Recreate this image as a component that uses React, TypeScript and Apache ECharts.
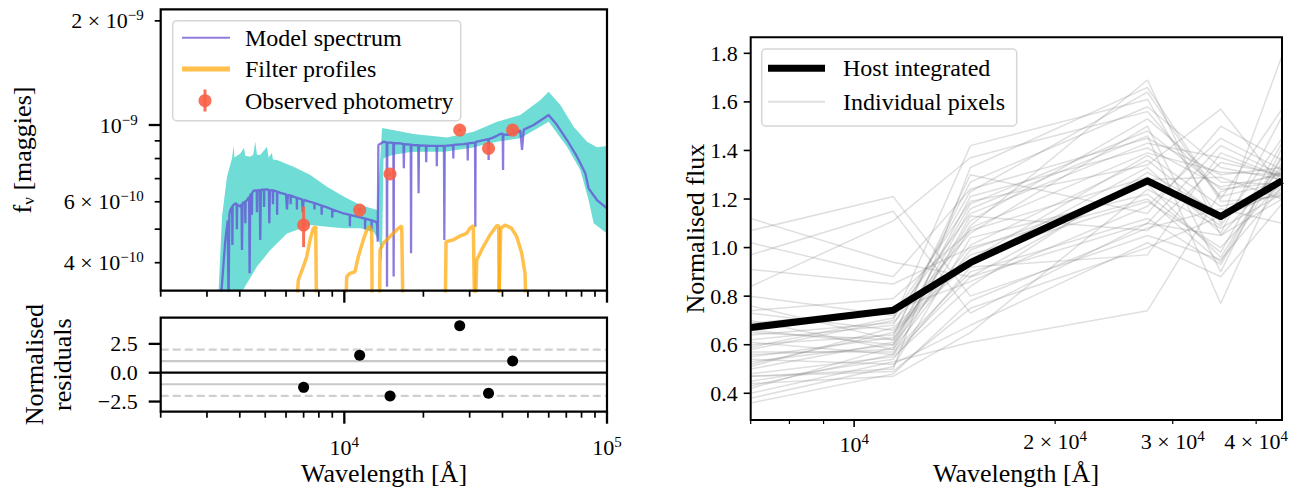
import React, { useEffect, useRef } from "react";
import * as echarts from "echarts";

const FAMILY = "'Liberation Serif', 'DejaVu Serif', serif";
const font = (size: number) => `${size}px ${FAMILY}`;

// ---------- Left panel: SED ----------
const photWave = [7000, 11440, 14930, 27500, 35400, 43730];
const photFlux = [5.14e-10, 5.68e-10, 7.22e-10, 9.67e-10, 8.56e-10, 9.67e-10];
const photLow = [4.44e-10, 5.6e-10, 7.13e-10, 9.56e-10, 8.46e-10, 9.56e-10];
const photHigh = [5.81e-10, 5.76e-10, 7.31e-10, 9.78e-10, 8.66e-10, 9.78e-10];
const residuals = [-1.27, 1.51, -2.02, 4.07, -1.79, 1.01];
const residRefValues = [2, 1, 0, -1, -2];

const modelSpectrum: [number, number][] = [
  [3373, 3.0e-10], [3524, 4.65e-10], [3600, 5.3e-10], [3625, 3.0e-10], [3650, 5.5e-10],
  [3681, 5.68e-10], [3740, 5.8e-10], [3750, 4.5e-10], [3760, 5.85e-10], [3846, 5.94e-10],
  [3890, 5.92e-10], [3900, 5.0e-10], [3910, 5.9e-10], [4018, 5.81e-10], [4060, 5.9e-10],
  [4078, 4.35e-10], [4100, 5.95e-10], [4190, 6.0e-10], [4200, 5.2e-10], [4210, 6.02e-10],
  [4262, 6.07e-10], [4340, 6.2e-10], [4360, 3.73e-10], [4385, 6.3e-10], [4440, 6.33e-10],
  [4450, 5.5e-10], [4460, 6.37e-10], [4515, 6.46e-10], [4640, 6.47e-10], [4650, 5.6e-10],
  [4660, 6.47e-10], [4760, 6.48e-10], [4786, 4.65e-10], [4815, 6.5e-10], [4940, 6.5e-10],
  [4950, 5.8e-10], [4960, 6.5e-10], [5078, 6.52e-10], [5160, 6.5e-10], [5182, 5.2e-10],
  [5210, 6.48e-10], [5340, 6.47e-10], [5350, 5.9e-10], [5360, 6.47e-10], [5540, 6.42e-10],
  [5550, 5.5e-10], [5560, 6.42e-10], [5706, 6.37e-10], [6000, 6.3e-10], [6050, 5.7e-10],
  [6100, 6.28e-10], [6240, 6.25e-10], [6250, 5.9e-10], [6260, 6.25e-10], [6412, 6.21e-10],
  [6590, 6.16e-10], [6600, 5.7e-10], [6610, 6.16e-10], [6900, 6.1e-10], [6950, 5.6e-10],
  [7000, 6.08e-10], [7424, 6.0e-10], [7690, 5.95e-10], [7700, 5.7e-10], [7710, 5.95e-10],
  [8190, 5.85e-10], [8200, 5.5e-10], [8210, 5.85e-10], [8590, 5.78e-10], [8990, 5.7e-10],
  [9000, 5.4e-10], [9010, 5.7e-10], [9938, 5.55e-10], [10490, 5.5e-10], [10500, 5.1e-10],
  [10510, 5.5e-10], [11510, 5.41e-10], [11990, 5.36e-10], [12000, 5.0e-10], [12010, 5.36e-10],
  [12690, 5.3e-10], [12700, 5.0e-10], [12710, 5.3e-10], [13125, 5.26e-10], [13320, 5.2e-10],
  [13400, 4.6e-10], [13480, 8.75e-10], [14110, 8.95e-10], [14500, 8.9e-10], [14540, 3.41e-10],
  [14580, 8.9e-10], [14970, 8.89e-10], [15370, 8.88e-10], [15410, 3.65e-10], [15450, 8.87e-10],
  [16340, 8.85e-10], [16800, 8.8e-10], [16850, 7.5e-10], [16900, 8.8e-10], [17900, 8.78e-10],
  [17950, 4.26e-10], [18000, 8.77e-10], [18360, 8.75e-10], [19120, 8.74e-10], [19180, 6.35e-10],
  [19240, 8.73e-10], [20450, 8.72e-10], [20500, 7.8e-10], [20550, 8.72e-10], [21260, 8.7e-10],
  [22450, 8.7e-10], [22500, 7.6e-10], [22550, 8.7e-10], [23950, 8.7e-10], [24030, 4.65e-10],
  [24110, 8.7e-10], [25950, 8.75e-10], [26000, 8.0e-10], [26050, 8.76e-10], [28460, 8.81e-10],
  [29450, 8.84e-10], [29500, 7.9e-10], [29550, 8.85e-10], [31450, 8.9e-10], [31530, 5.08e-10],
  [31610, 8.92e-10], [32000, 8.95e-10], [35350, 9.1e-10], [35430, 7.92e-10], [35510, 9.1e-10],
  [37020, 9.21e-10], [39260, 9.42e-10], [40100, 9.45e-10], [40200, 7.41e-10], [40300, 9.4e-10],
  [42220, 9.36e-10], [46770, 9.63e-10], [47480, 8.47e-10], [48200, 9.7e-10], [52570, 1.0e-9],
  [59960, 1.069e-9], [64530, 1.0e-9], [70440, 9.05e-10], [76900, 8.1e-10], [82700, 7.25e-10],
  [85100, 6.56e-10], [91600, 6.07e-10], [100000, 5.74e-10],
];

const bandUpper: [number, number][] = [
  [3323, 3.0e-10], [3423, 5.43e-10], [3576, 7.09e-10], [3737, 8.01e-10], [3790, 8.7e-10],
  [3820, 8.05e-10], [4018, 8.28e-10], [4150, 8.6e-10], [4200, 8.15e-10], [4386, 8.1e-10],
  [4500, 8.2e-10], [4583, 8.95e-10], [4650, 8.2e-10], [4786, 8.19e-10], [5078, 8.66e-10],
  [5150, 8.05e-10], [5300, 8.3e-10], [5350, 7.95e-10], [5544, 7.92e-10], [6412, 7.58e-10],
  [7424, 7.17e-10], [8590, 6.63e-10], [9938, 6.21e-10], [11510, 5.87e-10], [13320, 5.68e-10],
  [13920, 9.78e-10], [14110, 9.78e-10], [18360, 9.42e-10], [24600, 9.21e-10], [31060, 9.56e-10],
  [38130, 1.022e-9], [46770, 1.069e-9], [55760, 1.181e-9], [59960, 1.248e-9], [66440, 1.142e-9],
  [74650, 9.89e-10], [83950, 8.95e-10], [91600, 8.62e-10], [100000, 8.7e-10],
];

const bandLower: [number, number][] = [
  [3323, 3.0e-10], [4099, 3.0e-10], [4652, 3.9e-10], [5228, 4.35e-10], [6052, 4.86e-10],
  [7424, 5.14e-10], [8590, 5.08e-10], [9938, 5.03e-10], [11510, 5.03e-10], [12930, 4.91e-10],
  [13600, 4.6e-10], [13900, 4.0e-10], [14100, 8.0e-10], [14500, 8.1e-10], [14540, 3.6e-10],
  [14580, 8.1e-10], [15370, 8.2e-10], [15410, 3.9e-10], [15450, 8.2e-10], [17900, 8.35e-10],
  [17950, 4.6e-10], [18000, 8.35e-10], [19120, 8.37e-10], [19180, 6.6e-10], [19240, 8.37e-10],
  [23950, 8.37e-10], [24030, 5.0e-10], [24110, 8.37e-10], [31450, 8.63e-10], [31530, 5.4e-10],
  [31610, 8.65e-10], [38130, 8.95e-10], [46770, 9.15e-10], [59960, 1.022e-9], [70440, 8.66e-10],
  [79120, 7.41e-10], [85100, 6.07e-10], [88960, 5.2e-10], [100000, 4.86e-10],
];

const filter1: [number, number][] = [
  [6491, 2.5e-10], [6682, 3.565e-10], [6982, 3.895e-10], [7193, 4.163e-10], [7404, 4.656e-10],
  [7621, 5.028e-10], [7783, 5.082e-10], [7851, 2.5e-10],
];
const filter2: [number, number][] = [
  [10062, 2.5e-10], [10212, 3.644e-10], [10512, 3.727e-10], [10982, 3.767e-10], [11305, 4.163e-10],
  [11810, 4.656e-10], [12170, 4.97e-10], [12530, 5.105e-10], [12717, 4.863e-10], [12784, 2.5e-10],
];
const filter3: [number, number][] = [
  [13590, 2.5e-10], [13676, 4.355e-10], [14075, 4.55e-10], [14708, 4.706e-10], [15370, 4.864e-10],
  [16060, 5.028e-10], [16540, 5.105e-10], [16770, 2.5e-10],
];
const filter4: [number, number][] = [
  [24170, 2.5e-10], [24390, 4.6e-10], [25990, 4.656e-10], [27570, 4.777e-10], [29230, 4.864e-10],
  [30100, 5.028e-10], [30970, 5.117e-10], [31440, 2.5e-10],
];
const filter5: [number, number][] = [
  [31440, 2.5e-10], [31920, 4.074e-10], [33810, 4.448e-10], [35860, 4.81e-10], [38030, 5.117e-10],
  [38700, 5.117e-10], [38900, 2.5e-10],
];
const filter6: [number, number][] = [
  [38560, 2.5e-10], [39390, 5.028e-10], [40900, 5.14e-10], [43370, 5.028e-10], [45330, 4.755e-10],
  [47360, 4.258e-10], [48750, 3.727e-10], [49470, 2.5e-10],
];
const filters = [filter1, filter2, filter3, filter4, filter5, filter6];

// ---------- Right panel ----------
const pixelWave = [7000, 11440, 14930, 27500, 35400, 43730];
const hostIntegrated = [0.671, 0.742, 0.938, 1.275, 1.128, 1.275];
const pixelSpectra = [
  [1.12, 0.94, 0.88, 1.1, 1.05, 1.2],
  [1.07, 1.21, 0.8, 1.05, 0.95, 1.25],
  [1.02, 0.88, 1.24, 1.45, 1.3, 1.33],
  [0.97, 1.15, 0.73, 1.1, 1.42, 1.3],
  [0.91, 0.85, 1.0, 1.2, 0.94, 1.38],
  [0.84, 1.11, 1.37, 1.56, 1.21, 1.27],
  [0.8, 0.72, 1.19, 1.34, 1.57, 1.25],
  [0.76, 0.62, 1.09, 1.69, 1.05, 1.33],
  [0.73, 0.66, 0.95, 1.38, 1.17, 1.22],
  [0.7, 0.58, 1.13, 1.07, 1.35, 1.3],
  [0.64, 0.69, 1.06, 1.5, 0.9, 1.41],
  [0.61, 0.56, 0.88, 1.28, 1.29, 1.2],
  [0.58, 0.7, 1.42, 1.61, 1.1, 1.79],
  [0.55, 0.63, 1.3, 1.14, 1.5, 1.36],
  [0.54, 0.52, 0.68, 1.02, 0.88, 1.18],
  [0.53, 0.6, 1.21, 1.41, 1.25, 1.3],
  [0.51, 0.67, 0.97, 1.19, 1.0, 1.27],
  [0.48, 0.55, 0.84, 1.31, 1.14, 1.25],
  [0.47, 0.5, 1.33, 1.66, 1.2, 1.57],
  [0.45, 0.54, 0.92, 0.97, 1.39, 1.29],
  [0.44, 0.47, 0.65, 1.24, 1.08, 1.22],
  [0.42, 0.59, 1.16, 1.46, 0.77, 1.33],
  [0.4, 0.53, 0.61, 0.74, 1.23, 1.31],
  [0.38, 0.51, 1.04, 1.22, 0.98, 1.43],
  [0.36, 0.48, 0.78, 1.08, 1.16, 1.1],
  [0.6, 0.64, 1.27, 1.58, 1.33, 1.28],
  [0.66, 0.6, 1.01, 1.36, 1.12, 1.24],
  [0.57, 0.57, 0.9, 1.12, 0.93, 1.35],
  [0.5, 0.61, 1.11, 1.53, 1.27, 1.26],
  [0.69, 0.74, 0.86, 1.17, 1.45, 1.32],
  [0.62, 0.68, 1.23, 1.64, 1.19, 1.21],
  [0.56, 0.58, 0.99, 1.26, 0.96, 1.37],
  [0.43, 0.56, 1.08, 1.39, 1.31, 1.3],
  [0.52, 0.65, 0.94, 1.33, 1.06, 1.54],
  [0.47, 0.49, 0.75, 1.0, 1.13, 1.23],
  [0.59, 0.71, 1.14, 1.43, 1.37, 1.29],
  [0.74, 0.79, 1.07, 1.29, 1.09, 1.45],
  [0.65, 0.62, 1.18, 1.48, 1.24, 1.27],
];

// ---------- Ticks ----------
const fluxTicks = [2e-9, 1e-9, 9e-10, 8e-10, 7e-10, 6e-10, 5e-10, 4e-10];
const fluxTickLabels = ["2 × 10^−9", "10^−9", "", "", "", "6 × 10^−10", "", "4 × 10^−10"];
const fluxTickMajor = [false, true, false, false, false, false, false, false];

const waveTicksLeft = [2000, 3000, 4000, 5000, 6000, 7000, 8000, 9000, 10000, 20000, 30000, 40000, 50000, 60000, 70000, 80000, 90000, 100000];
const waveTickLabelsLeft = ["", "", "", "", "", "", "", "", "10^4", "", "", "", "", "", "", "", "", "10^5"];
const waveTickMajorLeft = waveTicksLeft.map((v) => v === 10000 || v === 100000);

const residTicks = [2.5, 0, -2.5];
const residTickLabels = ["2.5", "0.0", "−2.5"];

const normTicks = [0.4, 0.6, 0.8, 1.0, 1.2, 1.4, 1.6, 1.8];
const normTickLabels = ["0.4", "0.6", "0.8", "1.0", "1.2", "1.4", "1.6", "1.8"];

const waveTicksRight = [7000, 8000, 9000, 10000, 20000, 30000, 40000];
const waveTickLabelsRight = ["", "", "", "10^4", "2 × 10^4", "3 × 10^4", "4 × 10^4"];
const waveTickMajorRight = [false, false, false, true, false, false, false];

function richText(label: string) {
  const parts = label.split("^");
  return parts.length > 1 ? `{m|${parts[0]}}{s|${parts[1]}}` : `{m|${parts[0]}}`;
}
function richStyles(size: number, sup: number) {
  return {
    m: { font: font(size), fontSize: size, fontFamily: FAMILY, fill: "#000", lineHeight: size + 4 },
    s: { font: font(sup), fontSize: sup, fontFamily: FAMILY, fill: "#000", lineHeight: sup, verticalAlign: "top" },
  };
}

const hiddenAxis = {
  axisLine: { show: false },
  axisTick: { show: false },
  axisLabel: { show: false },
  splitLine: { show: false },
  minorTick: { show: false },
  minorSplitLine: { show: false },
};

type TickOpts = {
  axisIdx: number;
  axis: "x" | "y";
  values: number[];
  labels: string[];
  major: boolean[];
  ref: number;
  majorLen: number;
  minorLen: number;
  majorWidth: number;
  minorWidth: number;
  pad: number;
  fontSize: number;
  supSize: number;
  frame?: number;
};

function tickSeries(o: TickOpts) {
  const rs = richStyles(o.fontSize, o.supSize);
  return {
    type: "custom",
    xAxisIndex: o.axisIdx,
    yAxisIndex: o.axisIdx,
    silent: true,
    z: 10,
    clip: false,
    data: o.values.map((v) => (o.axis === "y" ? [o.ref, v] : [v, o.ref])),
    renderItem: (params: any, api: any) => {
      const i = params.dataIndex;
      const cs = params.coordSys;
      const v = o.values[i];
      const pt = api.coord(o.axis === "y" ? [o.ref, v] : [v, o.ref]);
      const len = o.major[i] ? o.majorLen : o.minorLen;
      const lw = o.major[i] ? o.majorWidth : o.minorWidth;
      const children: any[] = [];
      if (o.frame && i === 0) {
        children.push({
          type: "rect",
          shape: { x: cs.x, y: cs.y, width: cs.width, height: cs.height },
          style: { fill: "none", stroke: "#000", lineWidth: o.frame },
        });
      }
      if (o.axis === "y") {
        children.push({
          type: "line",
          shape: { x1: cs.x - len, y1: pt[1], x2: cs.x, y2: pt[1] },
          style: { stroke: "#000", lineWidth: lw },
        });
        if (o.labels[i]) {
          children.push({
            type: "text",
            x: cs.x - len - o.pad,
            y: pt[1],
            style: {
              text: richText(o.labels[i]), rich: rs, font: font(o.fontSize),
              align: "right", verticalAlign: "middle",
            },
          });
        }
      } else {
        const y0 = cs.y + cs.height;
        children.push({
          type: "line",
          shape: { x1: pt[0], y1: y0, x2: pt[0], y2: y0 + len },
          style: { stroke: "#000", lineWidth: lw },
        });
        if (o.labels[i]) {
          children.push({
            type: "text",
            x: pt[0],
            y: y0 + len + o.pad,
            style: {
              text: richText(o.labels[i]), rich: rs, font: font(o.fontSize),
              align: "center", verticalAlign: "top",
            },
          });
        }
      }
      return { type: "group", children };
    },
  };
}

const BLUE = "rgb(100,70,210)";
const CYAN = "rgba(64,208,200,0.75)";
const ORANGE = "#ffa500";
const RED = "rgba(250,95,70,0.9)";

function buildOption() {
  const series: any[] = [];

  series.push({
    type: "custom",
    xAxisIndex: 0,
    yAxisIndex: 0,
    silent: true,
    z: 1,
    data: [[bandUpper[1][0], bandUpper[1][1]]],
    renderItem: (params: any, api: any) => {
      const cs = params.coordSys;
      const clampY = (y: number) => Math.max(cs.y, Math.min(cs.y + cs.height, y));
      const pts = [...bandUpper, ...bandLower.slice().reverse()].map(([w, f]) => {
        const p = api.coord([w, f]);
        return [p[0], clampY(p[1])];
      });
      return { type: "polygon", shape: { points: pts }, style: { fill: CYAN } };
    },
  });

  series.push({
    type: "line",
    xAxisIndex: 0,
    yAxisIndex: 0,
    data: modelSpectrum,
    showSymbol: false,
    silent: true,
    clip: true,
    z: 2,
    lineStyle: { color: BLUE, width: 2.3, opacity: 0.72 },
  });

  filters.forEach((f) => {
    series.push({
      type: "line",
      xAxisIndex: 0,
      yAxisIndex: 0,
      data: f,
      showSymbol: false,
      silent: true,
      clip: true,
      z: 3,
      lineStyle: { color: ORANGE, width: 3.5, opacity: 0.7 },
    });
  });

  series.push({
    type: "custom",
    xAxisIndex: 0,
    yAxisIndex: 0,
    silent: true,
    z: 4,
    data: photWave.map((w, i) => [w, photLow[i], photHigh[i]]),
    renderItem: (params: any, api: any) => {
      const i = params.dataIndex;
      const a = api.coord([photWave[i], photLow[i]]);
      const b = api.coord([photWave[i], photHigh[i]]);
      return {
        type: "line",
        shape: { x1: a[0], y1: a[1], x2: b[0], y2: b[1] },
        style: { stroke: RED, lineWidth: 3 },
      };
    },
  });

  series.push({
    type: "scatter",
    xAxisIndex: 0,
    yAxisIndex: 0,
    data: photWave.map((w, i) => [w, photFlux[i]]),
    symbol: "circle",
    symbolSize: 13,
    silent: true,
    z: 5,
    itemStyle: { color: RED, opacity: 1 },
  });

  series.push(
    tickSeries({
      axisIdx: 0, axis: "y", values: fluxTicks, labels: fluxTickLabels, major: fluxTickMajor,
      ref: 2000, majorLen: 12, minorLen: 6, majorWidth: 2.3, minorWidth: 1.7, pad: 11,
      fontSize: 22, supSize: 15, frame: 2.2,
    })
  );
  series.push(
    tickSeries({
      axisIdx: 0, axis: "x", values: waveTicksLeft, labels: waveTicksLeft.map(() => ""), major: waveTickMajorLeft,
      ref: 3.32e-10, majorLen: 12, minorLen: 6, majorWidth: 2.3, minorWidth: 1.7, pad: 10,
      fontSize: 22, supSize: 15,
    })
  );

  series.push({
    type: "custom",
    xAxisIndex: 1,
    yAxisIndex: 1,
    silent: true,
    z: 1,
    data: residRefValues.map((v) => [2000, v]),
    renderItem: (params: any, api: any) => {
      const i = params.dataIndex;
      const v = residRefValues[i];
      const cs = params.coordSys;
      const p = api.coord([2000, v]);
      const isZero = v === 0;
      const dashed = Math.abs(v) === 2;
      return {
        type: "line",
        shape: { x1: cs.x, y1: p[1], x2: cs.x + cs.width, y2: p[1] },
        style: {
          stroke: isZero ? "#000" : dashed ? "#cfcfcf" : "#c8c8c8",
          lineWidth: isZero ? 2.3 : 2.2,
          lineDash: dashed ? [8, 4] : null,
        },
      };
    },
  });

  series.push({
    type: "scatter",
    xAxisIndex: 1,
    yAxisIndex: 1,
    data: photWave.map((w, i) => [w, residuals[i]]),
    symbol: "circle",
    symbolSize: 11,
    silent: true,
    z: 5,
    itemStyle: { color: "#000", opacity: 1 },
  });

  series.push(
    tickSeries({
      axisIdx: 1, axis: "y", values: residTicks, labels: residTickLabels, major: residTicks.map(() => true),
      ref: 2000, majorLen: 12, minorLen: 6, majorWidth: 2.3, minorWidth: 1.7, pad: 11,
      fontSize: 22, supSize: 15, frame: 2.2,
    })
  );
  series.push(
    tickSeries({
      axisIdx: 1, axis: "x", values: waveTicksLeft, labels: waveTickLabelsLeft, major: waveTickMajorLeft,
      ref: -3.38, majorLen: 12, minorLen: 6, majorWidth: 2.3, minorWidth: 1.7, pad: 11,
      fontSize: 22, supSize: 15,
    })
  );

  pixelSpectra.forEach((vals) => {
    series.push({
      type: "line",
      xAxisIndex: 2,
      yAxisIndex: 2,
      data: pixelWave.map((w, i) => [w, vals[i]]),
      showSymbol: false,
      silent: true,
      clip: true,
      z: 2,
      lineStyle: { color: "#808080", width: 1.5, opacity: 0.25 },
    });
  });
  series.push({
    type: "line",
    xAxisIndex: 2,
    yAxisIndex: 2,
    data: pixelWave.map((w, i) => [w, hostIntegrated[i]]),
    showSymbol: false,
    silent: true,
    clip: true,
    z: 4,
    lineStyle: { color: "#000", width: 7, join: "round", cap: "butt" },
  });
  series.push(
    tickSeries({
      axisIdx: 2, axis: "y", values: normTicks, labels: normTickLabels, major: normTicks.map(() => true),
      ref: 7000, majorLen: 7, minorLen: 4, majorWidth: 1.6, minorWidth: 1.2, pad: 6,
      fontSize: 22, supSize: 15, frame: 2,
    })
  );
  series.push(
    tickSeries({
      axisIdx: 2, axis: "x", values: waveTicksRight, labels: waveTickLabelsRight, major: waveTickMajorRight,
      ref: 0.29, majorLen: 7, minorLen: 4, majorWidth: 1.6, minorWidth: 1.2, pad: 4,
      fontSize: 22, supSize: 15,
    })
  );

  const legendText = (x: number, y: number, text: string) => ({
    type: "text",
    x,
    y,
    z: 100,
    style: {
      text,
      font: font(24),
      fill: "#000",
      align: "left",
      verticalAlign: "middle",
    },
  });

  const titleText = (x: number, y: number, text: string, rotation = 0, rich?: any) => ({
    type: "text",
    x,
    y,
    rotation,
    z: 100,
    style: {
      text,
      rich,
      font: font(26),
      fill: "#000",
      align: "center",
      verticalAlign: "middle",
    },
  });

  const graphic: any[] = [
    {
      type: "rect",
      z: 99,
      shape: { x: 172.7, y: 20.7, width: 288, height: 100, r: 4 },
      style: { fill: "rgba(255,255,255,0.8)", stroke: "#d6d6d6", lineWidth: 1.5 },
    },
    { type: "line", z: 100, shape: { x1: 182, y1: 37.7, x2: 230, y2: 37.7 }, style: { stroke: BLUE, lineWidth: 2, opacity: 0.7 } },
    { type: "line", z: 100, shape: { x1: 182, y1: 69, x2: 230, y2: 69 }, style: { stroke: ORANGE, lineWidth: 5, opacity: 0.7 } },
    { type: "line", z: 100, shape: { x1: 205, y1: 89.5, x2: 205, y2: 111.5 }, style: { stroke: RED, lineWidth: 3 } },
    { type: "circle", z: 100, shape: { cx: 205, cy: 100.7, r: 6.5 }, style: { fill: RED } },
    legendText(245, 37.7, "Model spectrum"),
    legendText(245, 69, "Filter profiles"),
    legendText(245, 100.7, "Observed photometry"),
    {
      type: "rect",
      z: 99,
      shape: { x: 761.7, y: 49, width: 255, height: 77, r: 4 },
      style: { fill: "rgba(255,255,255,0.8)", stroke: "#d6d6d6", lineWidth: 1.5 },
    },
    { type: "line", z: 100, shape: { x1: 768, y1: 68.3, x2: 825, y2: 68.3 }, style: { stroke: "#000", lineWidth: 7 } },
    { type: "line", z: 100, shape: { x1: 768, y1: 101.7, x2: 825, y2: 101.7 }, style: { stroke: "#808080", lineWidth: 2, opacity: 0.25 } },
    legendText(843, 68.3, "Host integrated"),
    legendText(843, 101.7, "Individual pixels"),
    titleText(384, 473, "Wavelength [Å]"),
    titleText(1016, 473, "Wavelength [Å]"),
    titleText(695, 228.7, "Normalised flux", Math.PI / 2),
    titleText(22, 150, "{m|f}{b|ν}{m| [maggies]}", Math.PI / 2, {
      m: { font: font(26), fontSize: 26, fontFamily: FAMILY, fill: "#000", lineHeight: 30 },
      b: { font: font(17), fontSize: 17, fontFamily: FAMILY, fill: "#000", lineHeight: 17, verticalAlign: "bottom" },
    }),
    titleText(34, 364.7, "Normalised", Math.PI / 2),
    titleText(62, 364.7, "residuals", Math.PI / 2),
  ];

  return {
    animation: false,
    backgroundColor: "#fff",
    textStyle: { fontFamily: FAMILY },
    grid: [
      { left: 160.7, top: 9.3, width: 446.3, height: 281.4, containLabel: false },
      { left: 160.7, top: 317.7, width: 446.3, height: 94, containLabel: false },
      { left: 750.7, top: 37.3, width: 531.3, height: 382.7, containLabel: false },
    ],
    xAxis: [
      { type: "log", logBase: 10, gridIndex: 0, min: 2000, max: 100000, ...hiddenAxis },
      { type: "log", logBase: 10, gridIndex: 1, min: 2000, max: 100000, ...hiddenAxis },
      { type: "log", logBase: 10, gridIndex: 2, min: 7000, max: 43730, ...hiddenAxis },
    ],
    yAxis: [
      { type: "log", logBase: 10, gridIndex: 0, min: 3.32e-10, max: 2.16e-9, ...hiddenAxis },
      { type: "value", gridIndex: 1, min: -3.38, max: 4.77, ...hiddenAxis },
      { type: "value", gridIndex: 2, min: 0.29, max: 1.866, ...hiddenAxis },
    ],
    series,
    graphic,
  };
}

export default function App() {
  const ref = useRef<HTMLDivElement>(null);
  useEffect(() => {
    const chart = echarts.init(ref.current!, undefined, { renderer: "svg" });
    chart.setOption(buildOption() as any);
    return () => chart.dispose();
  }, []);
  return (
    <div
      ref={ref}
      style={{ position: "fixed", left: 0, top: 0, width: 1301, height: 498, background: "#fff" }}
    />
  );
}
